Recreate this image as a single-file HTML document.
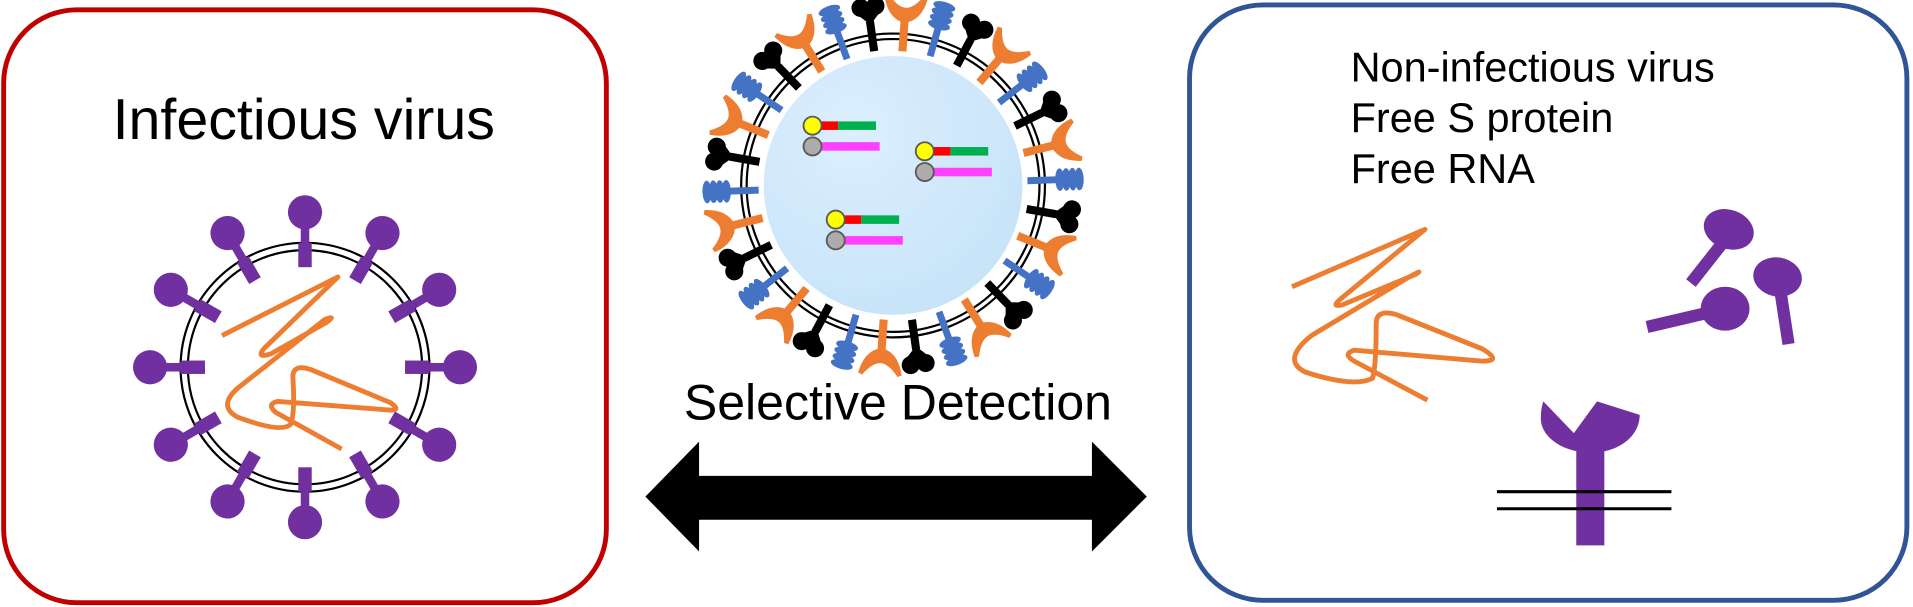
<!DOCTYPE html>
<html><head><meta charset="utf-8"><style>
html,body{margin:0;padding:0;background:#fff;}
svg{display:block;}
text{font-family:"Liberation Sans",Arial,sans-serif;fill:#000;}
</style></head><body>
<svg id="fig" width="1913" height="607" viewBox="0 0 1568 497.5" preserveAspectRatio="none">
<defs>
<radialGradient id="disc" cx="35%" cy="30%" r="75%"><stop offset="0" stop-color="#dcefff"/><stop offset="1" stop-color="#c7e3f8"/></radialGradient>
</defs>
<rect x="3" y="8" width="494" height="486" rx="60" fill="none" stroke="#C00000" stroke-width="4"/>
<text x="249" y="114" font-size="47" text-anchor="middle">Infectious virus</text>
<g id="virus">
<circle cx="250" cy="301" r="102" fill="none" stroke="#000" stroke-width="1.8"/>
<circle cx="250" cy="301" r="96" fill="none" stroke="#000" stroke-width="1.8"/>
<path d="M182,275 L277,227 L216,286 Q210,294 222,290 L268,264 Q276,258 266,262 L195,318 Q178,333 195,342 Q230,355 238,348 Q242,340 240,308 Q241,298 255,303 L320,330 Q330,337 318,336 L228,329 Q218,331 226,338 L280,368" fill="none" stroke="#ED7D31" stroke-width="4" stroke-linejoin="round"/>
</g>
<g id="np">
<circle cx="732" cy="152" r="124.5" fill="none" stroke="#000" stroke-width="1.8"/>
<circle cx="732" cy="152" r="120" fill="none" stroke="#000" stroke-width="1.8"/>
</g>
<text x="736" y="344" font-size="41" text-anchor="middle">Selective Detection</text>
<path d="M529,407 L573,362 L573,390 L895,390 L895,362 L940,407 L895,452 L895,426 L573,426 L573,452 Z" fill="#000"/>
<rect x="975" y="4" width="588" height="488" rx="60" fill="none" stroke="#2F5597" stroke-width="4"/>
<text x="1107" y="67" font-size="34">Non-infectious virus</text>
<text x="1107" y="108" font-size="34">Free S protein</text>
<text x="1107" y="150" font-size="34">Free RNA</text>
<path d="M1059,235 L1168,188 L1100,244 Q1090,252 1100,250 L1160,225 Q1168,220 1155,227 L1075,275 Q1050,295 1070,305 Q1110,318 1125,310 Q1128,300 1128,265 Q1128,253 1145,258 L1215,286 Q1232,296 1215,296 L1110,287 Q1100,290 1110,296 L1170,328" fill="none" stroke="#ED7D31" stroke-width="4" stroke-linejoin="round"/>
<g fill="#7030A0" stroke="#7030A0">
<line x1="1412" y1="199" x2="1386" y2="232" stroke-width="10"/>
<ellipse cx="1417" cy="188" rx="21" ry="16" transform="rotate(20 1417 188)" stroke="none"/>
<line x1="1414" y1="253" x2="1350" y2="268" stroke-width="10"/>
<ellipse cx="1414" cy="253" rx="20" ry="18" stroke="none"/>
<line x1="1458" y1="230" x2="1466" y2="282" stroke-width="10"/>
<ellipse cx="1457" cy="227" rx="20" ry="16" transform="rotate(10 1457 227)" stroke="none"/>
</g>
<g>
<path d="M1265,329 L1290,355 L1309,329 L1344,340 C1344,358 1326,371 1304,371 C1280,371 1262,357 1263,342 C1263,336 1264,332 1265,329 Z" fill="#7030A0"/>
<rect x="1292" y="366" width="23" height="81" fill="#7030A0"/>
<line x1="1227" y1="403" x2="1370" y2="403" stroke="#000" stroke-width="2.5"/>
<line x1="1227" y1="417" x2="1370" y2="417" stroke="#000" stroke-width="2.5"/>
</g>
</svg>
<script>
const NS="http://www.w3.org/2000/svg";
function mk(tag,attrs,parent){const e=document.createElementNS(NS,tag);for(const k in attrs)e.setAttribute(k,attrs[k]);parent.appendChild(e);return e;}
const spikeAngles=[0,30,60,90,120,150,180,210,240,270,300,330];
const virus=document.getElementById('virus');
spikeAngles.forEach(a=>{
  const g=mk('g',{transform:`translate(250 301) rotate(${a})`,fill:'#7030A0'},virus);
  
  
  mk('rect',{x:-5.5,y:-102,width:11,height:20},g);
  mk('rect',{x:-3.5,y:-122,width:7,height:22},g);
  mk('circle',{cx:0,cy:-127,r:14},g);
});
const np=document.getElementById('np');
const disc=mk('circle',{cx:732,cy:152,r:106,fill:'url(#disc)'},np);
np.insertBefore(disc,np.firstChild);
const recTypes=['orange','blue','black'];
for(let i=0;i<30;i++){
  const a=i*12+4, t=recTypes[i%3];
  const g=mk('g',{transform:`translate(732 152) rotate(${a}) scale(0.95)`},np);
  
  
  const h=mk('g',{transform:'translate(0 -140) scale(1.3) translate(0 140)'},g);
  if(t==='orange'){
    mk('rect',{x:-3.5,y:-144,width:7,height:28,fill:'#ED7D31'},g);
    mk('path',{d:'M-13,-158 Q-10,-144 0,-142 Q10,-144 13,-158 Q6,-149 0,-149 Q-6,-149 -13,-158 Z',fill:'#ED7D31',stroke:'#ED7D31','stroke-width':3},h);
  } else if(t==='blue'){
    mk('rect',{x:-3,y:-142,width:6,height:26,fill:'#4472C4'},g);
    for(let k=0;k<4;k++) mk('ellipse',{cx:0,cy:-143-k*4.3,rx:7.5,ry:3,fill:'#4472C4'},h);
  } else {
    mk('rect',{x:-3.5,y:-143,width:7,height:26,fill:'#000'},g);
    mk('circle',{cx:-5,cy:-152,r:6,fill:'#000'},h);
    mk('circle',{cx:5,cy:-152,r:6,fill:'#000'},h);
    mk('path',{d:'M-10,-150 L10,-150 L0,-140 Z',fill:'#000'},h);
  }
}
const probeX=[666,758,685];
const probeY=[103,124,180];
probeX.forEach((x,i)=>{
  const y=probeY[i];
  const g=mk('g',{},np);
  
  
  mk('rect',{x:x+3,y:y-3.5,width:18,height:7,fill:'#FF0000'},g);
  mk('rect',{x:x+21,y:y-3.5,width:31,height:7,fill:'#00B050'},g);
  mk('rect',{x:x+3,y:y+13.5,width:52,height:7,fill:'#FF40FF'},g);
  mk('circle',{cx:x,cy:y,r:7.4,fill:'#FFFF00',stroke:'#595959','stroke-width':1.5},g);
  mk('circle',{cx:x,cy:y+17,r:7.4,fill:'#AFABAB',stroke:'#595959','stroke-width':1.5},g);
});
</script>
</body></html>
